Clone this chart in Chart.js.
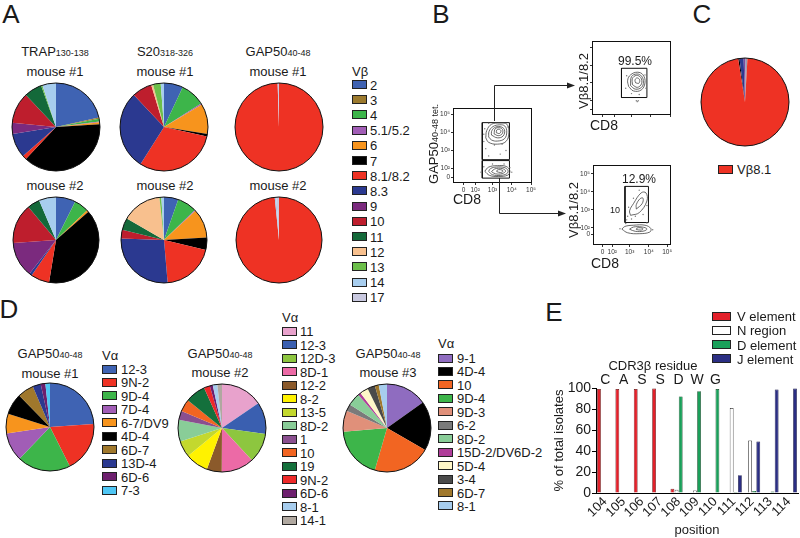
<!DOCTYPE html>
<html><head><meta charset="utf-8">
<script src="https://cdn.jsdelivr.net/npm/chart.js@4.4.1/dist/chart.umd.min.js"></script>
<style>
html,body{margin:0;padding:0;background:#fff;}
#root{position:relative;width:800px;height:538px;overflow:hidden;font-family:'Liberation Sans',Arial,sans-serif;color:#1a1a1a;}
.t{position:absolute;white-space:nowrap;line-height:1;}
.t small{font-size:9px;}
canvas{position:absolute;}
.box{position:absolute;border:1px solid #222;box-sizing:border-box;}
</style></head>
<body><div id="root"></div>
<script>
// ---------------- DATA ----------------
const vbLabels = ['2','3','4','5.1/5.2','6','7','8.1/8.2','8.3','9','10','11','12','13','14','17'];
const vbColors = ['#3f63b3','#9c7a2e','#3db54a','#a15db6','#f7941d','#000000','#ee3224','#2b3990','#7b2a7e','#be1e2d','#14693a','#f8c08e','#6cbf4a','#a7cdee','#c9c9e0'];
const trapM1 = [21.5,0.5,1,0.3,0.7,38,1.5,9,4,11.5,6.5,0,0.5,5,0];
const trapM2 = [7.4,0,5.5,0,0.7,39,7,1,13.3,15,4.7,0,0,6.4,0];
const s20M1  = [7,0,9,0.5,11,1,30.5,29,0,7.3,0,0.7,2.8,1.2,0];
const s20M2  = [5.4,0,7.4,0.3,11,4.7,20,27,0,3.3,4.5,15,0.7,1,0];
const gapM1  = [0,0,0,0,0,0,99.5,0,0,0,0,0,0,0,0.5];
const gapM2  = [0,0,0,0,0,0,98.4,0,0,0,0,0,0,0.6,1.0];

const cLabels = ['7','8.3','9','17','8.1'];
const cColors = ['#000000','#2b3990','#7b4a9e','#9a9ab0','#ee3224'];
const cValues = [0.5,1.5,0.7,0.7,96.6];

const va1Labels = ['12-3','9N-2','9D-4','7D-4','6-7/DV9','4D-4','6D-7','13D-4','6D-6','7-3'];
const va1Colors = ['#3f63b3','#ee3224','#3db54a','#a15db6','#f7941d','#000000','#a0782c','#2b3990','#6d1f6e','#4fc6f4'];
const va1Values = [24,18.7,19.7,10.5,7.2,7.8,6,3,1.7,1.7];

const va2Labels = ['11','12-3','12D-3','8D-1','12-2','8-2','13-5','8D-2','1','10','19','9N-2','6D-6','8-1','14-1'];
const va2Colors = ['#e8a2cc','#3a5fb0','#8dc63f','#ec6aa6','#8b5a2b','#fff200','#c3d82e','#89cd98','#8a4f8f','#f26522','#14703c','#ee2a2a','#6d1f6e','#a7cdee','#b0a8a0'];
const va2Values = [15.5,11.7,11,12,5.5,8.5,6,8,3.3,4.5,7.5,2.2,1.1,1.7,1.7];

const va3Labels = ['9-1','4D-4','10','9D-4','9D-3','6-2','8D-2','15D-2/DV6D-2','5D-4','3-4','6D-7','8-1'];
const va3Colors = ['#8f6cc0','#000000','#f26522','#3db54a','#e0907a','#7a7a7a','#89cd98','#b03d9a','#fff7c8','#4a4a4a','#a0782c','#a7cdee'];
const va3Values = [15,18,21,19,7.7,2.5,4.7,1,3,2.8,1.4,3];

const positions = ['104','105','106','107','108','109','110','111','112','113','114'];
const residues  = ['C','A','S','S','D','W','G','','','',''];
const vElement  = [99,99,99,99.5,4,null,null,null,null,null,null];
const nRegion   = [null,null,null,null,3,2.5,0.5,81,50,null,null];
const dElement  = [null,null,null,null,92,97,99,1,2,1.5,null];
const jElement  = [null,null,null,null,null,null,null,17,49,98.5,99.5];
const eLegend   = ['V element','N region','D element','J element'];
const eColors   = ['#e3202a','#ffffff','#1aa05a','#2b2e83'];

// flow cytometry (display units: decades)
const flowTickLabels = ['0','10²','10³','10⁴','10⁵'];
const mainXTicks = [0,0.6,1.5,2.5,3.5];
const mainYTicks = [0,0.5,1.5,2.5,3.5];
const brXTicks = [0,0.5,1.4,2.4,3.35];
const brYTicks = [0,0.35,1.35,2.35,3.35];
const mainContours = [
 [[1.15,2.2],[1.3,1.95],[1.75,1.85],[2.2,2.0],[2.35,2.5],[2.25,2.95],[1.9,3.02],[1.45,2.95],[1.2,2.6],[1.15,2.2]],
 [[1.3,2.25],[1.45,2.08],[1.75,2.02],[2.12,2.15],[2.24,2.52],[2.14,2.85],[1.88,2.92],[1.52,2.82],[1.32,2.55],[1.3,2.25]],
 [[1.45,2.35],[1.75,2.2],[2.05,2.3],[2.12,2.65],[1.9,2.82],[1.6,2.76],[1.45,2.55],[1.45,2.35]],
 [[1.58,2.42],[1.8,2.32],[2.0,2.42],[2.02,2.66],[1.86,2.76],[1.64,2.7],[1.58,2.42]],
 [[1.7,2.48],[1.86,2.44],[1.94,2.58],[1.84,2.68],[1.72,2.63],[1.7,2.48]],
 [[1.1,0.35],[1.35,0.12],[1.8,0.06],[2.3,0.14],[2.4,0.38],[2.2,0.62],[1.75,0.66],[1.3,0.58],[1.1,0.35]],
 [[1.3,0.34],[1.5,0.16],[1.9,0.12],[2.25,0.22],[2.3,0.4],[2.1,0.56],[1.7,0.58],[1.4,0.5],[1.3,0.34]],
 [[1.45,0.33],[1.65,0.21],[2.0,0.22],[2.18,0.36],[2.0,0.5],[1.62,0.48],[1.45,0.33]],
 [[1.72,0.33],[1.92,0.28],[2.05,0.36],[1.9,0.44],[1.74,0.41],[1.72,0.33]]
];
const mainDots = [[1.05,2.0],[1.1,2.7],[1.3,3.0],[2.35,2.2],[2.3,2.8],[1.05,2.4],[1.6,1.8],[2.0,1.85],[1.15,1.6],[2.2,1.5],[0.9,0.3],[2.5,0.3],[1.05,0.6],[2.4,0.55],[1.5,0.75],[2.1,0.75],[1.3,1.2],[1.9,1.3]];
const mainGates = [
 [[0.97,0.99],[2.38,0.99],[2.38,3.04],[0.97,3.04],[0.97,0.99]],
 [[0.97,-0.03],[2.38,-0.03],[2.38,0.94],[0.97,0.94],[0.97,-0.03]]
];
const trContours = [
 [[1.35,1.3],[1.6,1.05],[2.0,1.1],[2.2,1.5],[2.1,1.95],[1.8,2.1],[1.45,1.95],[1.3,1.65],[1.35,1.3]],
 [[1.45,1.35],[1.7,1.15],[2.02,1.25],[2.12,1.55],[2.02,1.88],[1.78,2.0],[1.5,1.85],[1.45,1.35]],
 [[1.55,1.4],[1.8,1.25],[2.02,1.45],[1.98,1.8],[1.75,1.92],[1.55,1.75],[1.55,1.4]],
 [[1.72,1.5],[1.88,1.48],[1.92,1.68],[1.78,1.78],[1.68,1.65],[1.72,1.5]]
];
const trDots = [[1.2,1.2],[1.25,1.9],[2.25,1.2],[2.2,1.95],[1.5,0.9],[1.9,0.85],[1.75,0.5],[1.85,0.5],[1.8,0.45]];
const trGate = [[0.98,0.68],[2.3,0.68],[2.3,2.32],[0.98,2.32],[0.98,0.68]];
const brContours = [
 [[1.45,1.05],[1.9,1.2],[2.3,1.85],[2.25,2.3],[2.0,2.3],[1.6,1.7],[1.4,1.3],[1.45,1.05]],
 [[1.75,1.4],[2.05,1.7],[2.1,2.0],[1.95,1.98],[1.75,1.65],[1.75,1.4]],
 [[1.0,0.28],[1.3,0.08],[1.9,0.03],[2.45,0.12],[2.5,0.32],[2.2,0.5],[1.6,0.5],[1.15,0.43],[1.0,0.28]],
 [[1.4,0.28],[1.7,0.16],[2.15,0.18],[2.3,0.3],[2.05,0.4],[1.6,0.4],[1.4,0.28]],
 [[1.75,0.26],[2.0,0.23],[2.1,0.3],[1.95,0.36],[1.78,0.34],[1.75,0.26]]
];
const brDots = [[1.3,1.0],[1.5,0.85],[1.7,1.0],[1.35,1.5],[1.6,2.0],[2.1,1.1],[2.3,1.6],[1.9,2.45],[1.25,0.8],[0.9,0.3],[2.6,0.25],[1.2,0.6],[2.3,0.62]];
const brGate = [[1.16,0.65],[2.38,0.65],[2.38,2.66],[1.16,2.66],[1.16,0.65]];

// ---------------- HELPERS ----------------
const FONT = "'Liberation Sans', Arial, sans-serif";
Chart.defaults.font.family = FONT;
Chart.defaults.color = '#1a1a1a';
const root = document.getElementById('root');

function T(html, x, y, size, align, rot){
  const d = document.createElement('div');
  d.className = 't';
  d.innerHTML = html;
  d.style.fontSize = size + 'px';
  d.style.left = x + 'px'; d.style.top = y + 'px';
  const tx = align === 'left' ? '0' : '-50%';
  d.style.transform = 'translate(' + tx + ',-50%)' + (rot ? ' rotate(' + rot + 'deg)' : '');
  root.appendChild(d);
  return d;
}
function makeCanvas(x, y, w, h){
  const c = document.createElement('canvas');
  c.width = w; c.height = h;
  c.style.left = x + 'px'; c.style.top = y + 'px';
  c.style.width = w + 'px'; c.style.height = h + 'px';
  root.appendChild(c);
  return c;
}
const outline = {
  id: 'outline',
  afterDatasetsDraw(chart){
    const arc = chart.getDatasetMeta(0).data[0];
    const ctx = chart.ctx;
    ctx.save(); ctx.beginPath();
    ctx.arc(arc.x, arc.y, arc.outerRadius, 0, Math.PI * 2);
    ctx.lineWidth = 1; ctx.strokeStyle = '#111'; ctx.stroke(); ctx.restore();
  }
};
function pie(cx, cy, r, labels, values, colors, rotation){
  const s = 2 * r + 2;
  const c = makeCanvas(cx - r - 1, cy - r - 1, s, s);
  new Chart(c, {
    type: 'pie',
    data: { labels: labels, datasets: [{ data: values, backgroundColor: colors, borderWidth: 0 }] },
    options: { responsive: false, animation: false, rotation: rotation || 0,
      layout: { padding: 1 },
      plugins: { legend: { display: false }, tooltip: { enabled: false } } },
    plugins: [outline]
  });
}
function legend(header, hx, hy, labels, colors, y0, step, bx, bw, bh, tx, size){
  if (header) T(header, hx, hy, 13, 'left');
  labels.forEach(function(l, i){
    const y = y0 + i * step;
    const b = document.createElement('div');
    b.className = 'box';
    b.style.left = bx + 'px'; b.style.top = (y - bh / 2) + 'px';
    b.style.width = bw + 'px'; b.style.height = bh + 'px';
    b.style.background = colors[i];
    root.appendChild(b);
    T(l, tx, y, size || 13, 'left');
  });
}

// ---------------- PANEL LETTERS ----------------
T('A', 11, 14, 26); T('B', 441, 14, 26); T('C', 702, 14, 26);
T('D', 9, 309, 26); T('E', 554, 312, 26);

// ---------------- PANEL A ----------------
T('TRAP<small>130-138</small>', 55, 51, 13);
T('S20<small>318-326</small>', 165, 51, 13);
T('GAP50<small>40-48</small>', 278, 51, 13);
[55,165,278].forEach(function(x){ T('mouse #1', x, 71, 13); T('mouse #2', x, 185, 13); });
pie(56, 127, 44, vbLabels, trapM1, vbColors);
pie(164, 127, 44, vbLabels, s20M1, vbColors);
pie(278.5, 127, 44, vbLabels, gapM1, vbColors);
pie(56, 240, 43, vbLabels, trapM2, vbColors);
pie(164, 240, 43, vbLabels, s20M2, vbColors);
pie(278.5, 240, 43, vbLabels, gapM2, vbColors);
legend('Vβ', 352, 71, vbLabels, vbColors, 84.5, 15.2, 352, 15, 9, 370, 13);

// ---------------- PANEL C ----------------
pie(745, 102, 44, cLabels, cValues, cColors, -9);
legend(null, 0, 0, ['Vβ8.1'], ['#ee3224'], 169, 0, 718, 15, 9, 737, 13);

// ---------------- PANEL D ----------------
T('GAP50<small>40-48</small>', 50, 353, 13);
T('GAP50<small>40-48</small>', 220, 353, 13);
T('GAP50<small>40-48</small>', 388, 353, 13);
T('mouse #1', 50, 373, 13); T('mouse #2', 220, 372, 13); T('mouse #3', 388, 372, 13);
pie(50, 427, 44, va1Labels, va1Values, va1Colors);
pie(222, 428, 44, va2Labels, va2Values, va2Colors);
pie(387, 428, 44, va3Labels, va3Values, va3Colors);
legend('Vα', 102, 355, va1Labels, va1Colors, 369, 13.45, 102, 15, 9, 121, 13);
legend('Vα', 282, 317, va2Labels, va2Colors, 331, 13.5, 282, 15, 9, 300, 13);
legend('Vα', 438, 343, va3Labels, va3Colors, 358, 13.45, 438, 15, 9, 457, 13);

// ---------------- PANEL B (flow plots) ----------------
const frame = {
  id: 'frame',
  afterDraw(chart){
    const a = chart.chartArea, ctx = chart.ctx;
    ctx.save(); ctx.strokeStyle = '#111'; ctx.lineWidth = 1;
    ctx.strokeRect(Math.round(a.left) + 0.5, Math.round(a.top) + 0.5, Math.round(a.right - a.left) - 1, Math.round(a.bottom - a.top) - 1);
    ctx.restore();
  }
};
function pts(arr){ return arr.map(function(p){ return { x: p[0], y: p[1] }; }); }
function flow(o){
  const c = makeCanvas(o.x, o.y, o.w, o.h);
  const ds = [];
  o.contours.forEach(function(cn){
    ds.push({ data: pts(cn), showLine: true, pointRadius: 0, borderColor: '#444', borderWidth: 0.8, tension: 0.4 });
  });
  ds.push({ data: pts(o.dots), showLine: false, pointRadius: 0.7, backgroundColor: '#777', borderWidth: 0 });
  o.gates.forEach(function(g){
    ds.push({ data: pts(g), showLine: true, pointRadius: 0, borderColor: '#111', borderWidth: 1, tension: 0 });
  });
  function axis(ticks, min, max, showLabels, isX, size){
    return {
      type: 'linear', min: min, max: max,
      afterBuildTicks: function(s){ s.ticks = ticks.map(function(v){ return { value: v }; }); },
      ticks: { display: showLabels, autoSkip: false, maxRotation: 0, minRotation: 0, padding: 1,
        font: { size: 6.5 }, color: '#333',
        callback: function(v){ const k = ticks.indexOf(v); return k >= 0 ? flowTickLabels[k] : ''; } },
      grid: { display: true, drawOnChartArea: false, drawTicks: true, tickLength: 2, color: '#333' },
      border: { display: false },
      afterFit: function(s){
        if (isX) s.height = size; else s.width = size;
        s.paddingLeft = 0; s.paddingRight = 0; s.paddingTop = 0; s.paddingBottom = 0;
      }
    };
  }
  new Chart(c, {
    type: 'scatter',
    data: { datasets: ds },
    options: { responsive: false, animation: false,
      layout: { padding: { top: 2, right: 2, left: 0, bottom: 0 } },
      plugins: { legend: { display: false }, tooltip: { enabled: false } },
      scales: {
        x: axis(o.xt, o.xr[0], o.xr[1], o.labels, true, o.ax),
        y: axis(o.yt, o.yr[0], o.yr[1], o.labels, false, o.ay)
      } },
    plugins: [frame]
  });
}
flow({ x: 438, y: 104, w: 98, h: 91, ax: 12, ay: 15, labels: true,
  xt: mainXTicks, yt: mainYTicks, xr: [-0.55, 3.55], yr: [-0.3, 3.85],
  contours: mainContours, dots: mainDots, gates: mainGates });
flow({ x: 588, y: 37, w: 87, h: 82, ax: 4, ay: 4, labels: false,
  xt: mainXTicks, yt: mainYTicks, xr: [-0.55, 3.55], yr: [-0.3, 3.85],
  contours: trContours, dots: trDots, gates: [trGate] });
flow({ x: 578, y: 161, w: 97, h: 96, ax: 12, ay: 15, labels: true,
  xt: brXTicks, yt: brYTicks, xr: [-0.5, 3.55], yr: [-0.6, 3.85],
  contours: brContours, dots: brDots, gates: [brGate] });

T('GAP50<small>40-48</small><small> tet.</small>', 433, 144, 13, null, -90);
T('CD8', 467, 199, 14);
T('Vβ8.1/8.2', 583, 81, 13, null, -90);
T('CD8', 604, 125, 14);
T('99.5%', 635, 61, 12);
T('Vβ8.1/8.2', 573, 210, 13, null, -90);
T('CD8', 605, 263, 14);
T('12.9%', 639, 179, 12);
T('10', 615, 210, 9);

const svgNS = 'http://www.w3.org/2000/svg';
const svg = document.createElementNS(svgNS, 'svg');
svg.setAttribute('width', '800'); svg.setAttribute('height', '538');
svg.style.position = 'absolute'; svg.style.left = '0'; svg.style.top = '0'; svg.style.pointerEvents = 'none';
svg.innerHTML = '<polyline points="494.5,121 494.5,85.5 569,85.5" fill="none" stroke="#222" stroke-width="1"/>' +
  '<polygon points="575,85.5 567,82.5 567,88.5" fill="#222"/>' +
  '<polyline points="499.5,178 499.5,213.5 560,213.5" fill="none" stroke="#222" stroke-width="1"/>' +
  '<polygon points="566,213.5 558,210.5 558,216.5" fill="#222"/>';
root.appendChild(svg);

// ---------------- PANEL E ----------------
legend(null, 0, 0, eLegend, eColors, 316, 14.3, 712, 19, 9, 737, 13);
T('CDR3β residue', 653, 365, 13);
const residuePlugin = {
  id: 'residues',
  afterDraw(chart){
    const ctx = chart.ctx, xs = chart.scales.x;
    ctx.save(); ctx.fillStyle = '#1a1a1a'; ctx.font = '14px ' + FONT;
    ctx.textAlign = 'center'; ctx.textBaseline = 'middle';
    residues.forEach(function(r, i){ if (r) ctx.fillText(r, xs.getPixelForValue(i), 28); });
    ctx.restore();
  }
};
const cE = makeCanvas(540, 352, 260, 186);
new Chart(cE, {
  type: 'bar',
  data: { labels: positions, datasets: [
    { label: eLegend[0], data: vElement, backgroundColor: eColors[0], borderColor: '#5a1010', borderWidth: 0.7 },
    { label: eLegend[1], data: nRegion,  backgroundColor: eColors[1], borderColor: '#111', borderWidth: 0.7 },
    { label: eLegend[2], data: dElement, backgroundColor: eColors[2], borderColor: '#0a3a1a', borderWidth: 0.7 },
    { label: eLegend[3], data: jElement, backgroundColor: eColors[3], borderColor: '#0a0a3a', borderWidth: 0.7 }
  ] },
  options: { responsive: false, animation: false,
    layout: { padding: { top: 36, right: 2, left: 0, bottom: 0 } },
    datasets: { bar: { categoryPercentage: 0.9, barPercentage: 0.92 } },
    plugins: { legend: { display: false }, tooltip: { enabled: false } },
    scales: {
      x: { ticks: { font: { size: 13 }, color: '#1a1a1a', minRotation: 45, maxRotation: 45, padding: 1, autoSkip: false },
        grid: { display: false, drawTicks: false, tickLength: 0 }, border: { display: true, color: '#000', width: 1 },
        title: { display: true, text: 'position', font: { size: 13 }, color: '#1a1a1a', padding: { top: 0, bottom: 0 } },
        afterFit: function(s){ s.height = 45; s.paddingLeft = 0; s.paddingRight = 0; } },
      y: { min: 0, max: 100, ticks: { stepSize: 20, font: { size: 14 }, color: '#1a1a1a', padding: 1 },
        grid: { display: true, drawOnChartArea: false, drawTicks: true, tickLength: 4, color: '#000' },
        border: { display: true, color: '#000', width: 1 },
        title: { display: true, text: '% of total isolates', font: { size: 13 }, color: '#1a1a1a', padding: { top: 12, bottom: 0 } },
        afterFit: function(s){ s.width = 56; s.paddingTop = 0; s.paddingBottom = 0; } }
    } },
  plugins: [residuePlugin]
});
</script></body></html>
